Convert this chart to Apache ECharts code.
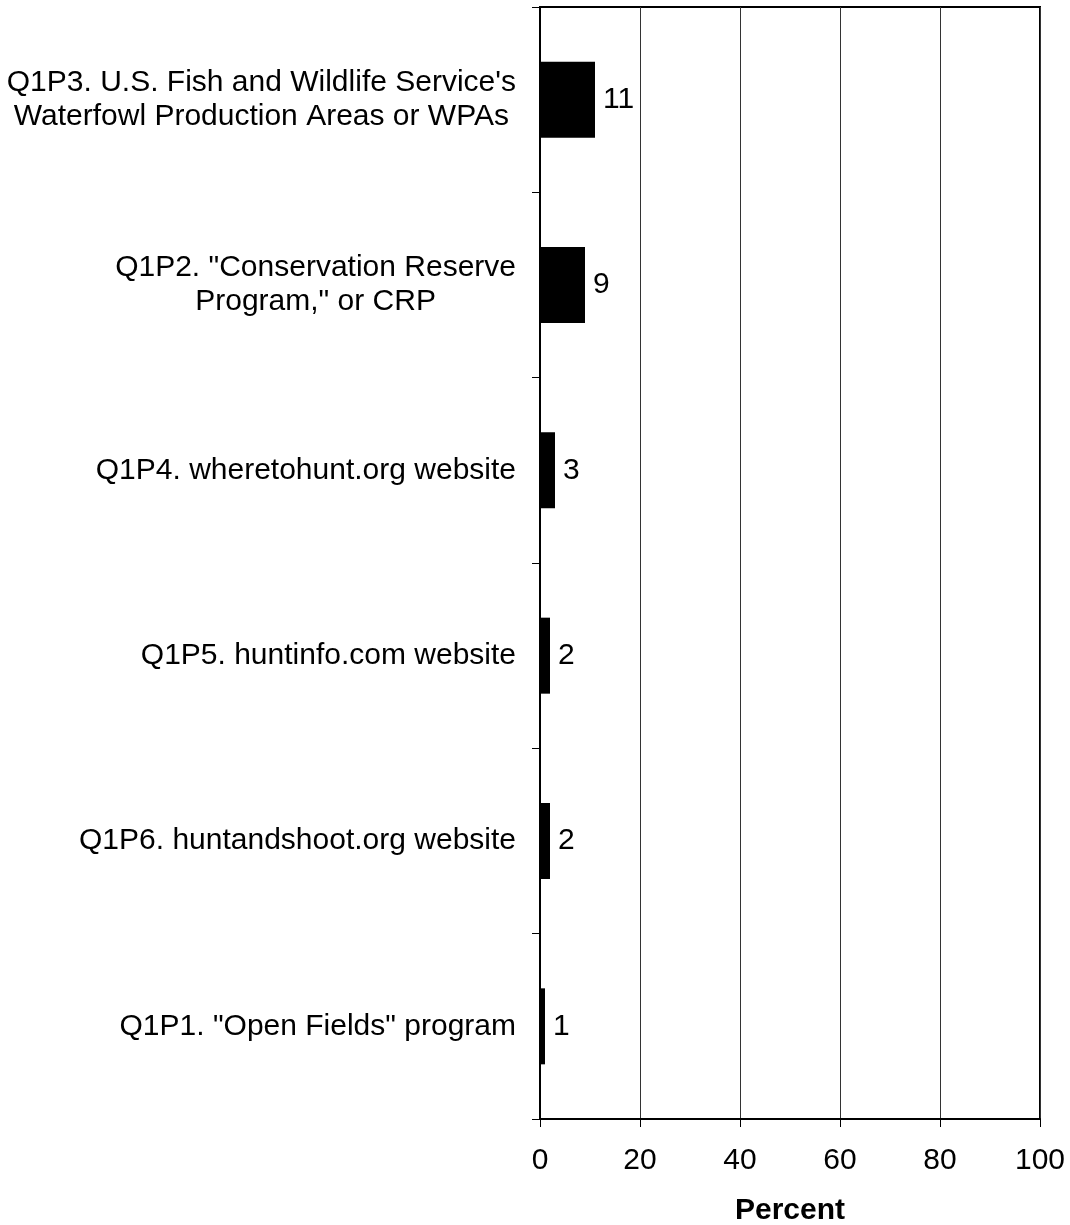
<!DOCTYPE html>
<html><head><meta charset="utf-8">
<script src="https://cdn.jsdelivr.net/npm/echarts@6/dist/echarts.min.js"></script>
<style>html,body{margin:0;padding:0;background:#fff}#c{width:1070px;height:1225px}</style>
</head><body><div id="c"></div>
<script>
const categories = [
  'Q1P1. "Open Fields" program',
  'Q1P6. huntandshoot.org website',
  'Q1P5. huntinfo.com website',
  'Q1P4. wheretohunt.org website',
  'Q1P2. "Conservation Reserve\nProgram," or CRP',
  "Q1P3. U.S. Fish and Wildlife Service's\nWaterfowl Production Areas or WPAs"
];
const values = [1, 2, 2, 3, 9, 11];
const xTicks = [0, 20, 40, 60, 80, 100];

const FONT = 'Liberation Sans, Arial, sans-serif';
const chart = echarts.init(document.getElementById('c'));
chart.setOption({
  animation: false,
  backgroundColor: '#fff',
  grid: { left: 540, right: 30, top: 7, bottom: 106, containLabel: false, outerBoundsMode: 'none',
          show: true, borderColor: '#000', borderWidth: 2, backgroundColor: 'transparent' },
  xAxis: {
    type: 'value', min: xTicks[0], max: xTicks[xTicks.length - 1], interval: 20,
    axisLine: { show: true, lineStyle: { color: '#000', width: 2 } },
    axisTick: { show: true, length: 8, lineStyle: { color: '#000' } },
    axisLabel: { fontFamily: FONT, fontSize: 30, color: '#000', margin: 27 },
    splitLine: { show: true, lineStyle: { color: '#333', width: 1 } },
    name: 'Percent', nameLocation: 'middle', nameGap: 77,
    nameTextStyle: { fontFamily: FONT, fontSize: 30, fontWeight: 'bold', color: '#000' }
  },
  yAxis: {
    type: 'category', data: categories,
    axisLine: { show: true, lineStyle: { color: '#000', width: 2 } },
    axisTick: { show: true, length: 8, inside: false, lineStyle: { color: '#000' } },
    axisLabel: {
      margin: 24, color: '#000', fontFamily: FONT, fontSize: 30, lineHeight: 34,
      formatter: function (v) { return v.split('\n').map(s => '{c|' + s + '}').join('\n'); },
      rich: { c: { align: 'center', fontFamily: FONT, fontSize: 30, lineHeight: 34, color: '#000' } }
    },
    splitLine: { show: false }
  },
  series: [{
    type: 'bar', data: values, barWidth: 76,
    itemStyle: { color: '#000' },
    label: { show: true, position: 'right', distance: 8, fontFamily: FONT, fontSize: 30, color: '#000' }
  }]
});
</script></body></html>
